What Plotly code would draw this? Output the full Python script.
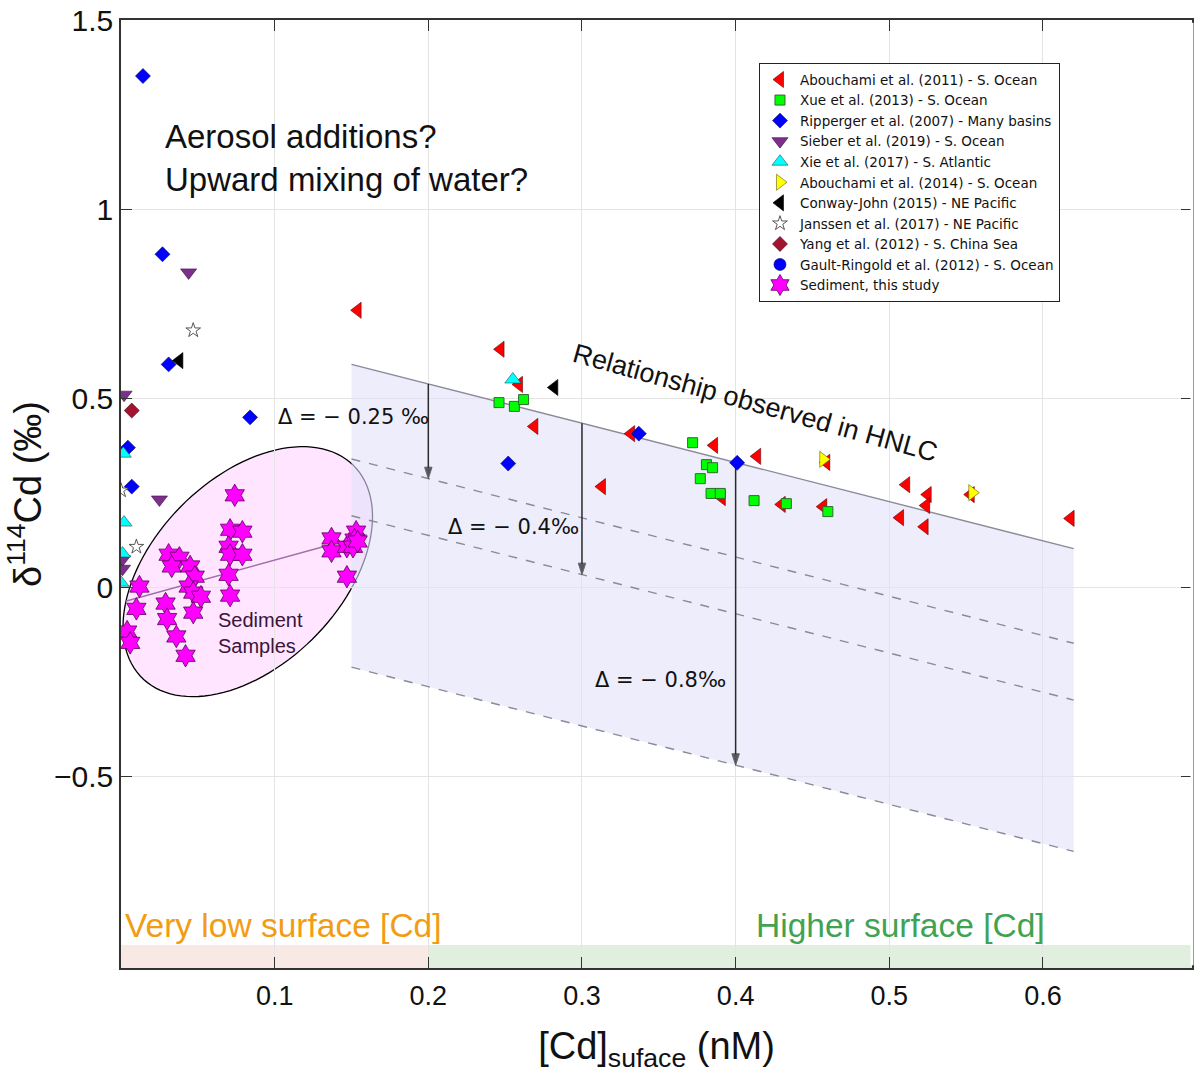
import numpy as np
import plotly.graph_objects as go

# ---------------- data ----------------
abou11_x = [0.154, 0.247, 0.259, 0.269, 0.332, 0.313, 0.386, 0.391, 0.414, 0.459, 0.511, 0.525, 0.524,
            0.507, 0.523, 0.618, 0.430, 0.457, 0.553]
abou11_y = [0.733, 0.630, 0.537, 0.426, 0.407, 0.267, 0.376, 0.238, 0.347, 0.331, 0.272, 0.246, 0.217,
            0.185, 0.161, 0.183, 0.220, 0.214, 0.246]

xue_x = [0.246, 0.256, 0.262, 0.372, 0.381, 0.385, 0.377, 0.384, 0.390, 0.412, 0.433, 0.460]
xue_y = [0.489, 0.479, 0.497, 0.383, 0.325, 0.317, 0.288, 0.249, 0.249, 0.230, 0.222, 0.201]

ripp_x = [0.0143, 0.027, 0.031, 0.084, 0.0045, 0.007, 0.252, 0.337, 0.401]
ripp_y = [1.352, 0.881, 0.590, 0.450, 0.370, 0.267, 0.328, 0.407, 0.330]

sieb_x = [0.044, 0.002, 0.025, 0.001, 0.001]
sieb_y = [0.833, 0.510, 0.233, 0.075, 0.050]

xie_x = [0.0015, 0.002, 0.001, 0.000, 0.255]
xie_y = [0.354, 0.172, 0.090, 0.013, 0.550]

abou14_x = [0.457, 0.554]
abou14_y = [0.339, 0.251]

conway_x = [0.038, 0.282]
conway_y = [0.600, 0.529]

janssen_x = [0.047, 0.000, 0.010]
janssen_y = [0.680, 0.257, 0.108]

yang_x = [0.007]
yang_y = [0.468]

gault_x = [None]
gault_y = [None]

sed_x = [0.012, 0.010, 0.004, 0.006, 0.031, 0.038, 0.033, 0.045, 0.048, 0.044, 0.047, 0.052, 0.029,
         0.030, 0.047, 0.036, 0.042, 0.074, 0.071, 0.079, 0.070, 0.071, 0.079, 0.070, 0.071,
         0.137, 0.137, 0.147, 0.153, 0.152, 0.151, 0.147, 0.154]
sed_y = [0.003, -0.056, -0.116, -0.146, 0.087, 0.079, 0.056, 0.056, 0.029, 0.003, -0.013, -0.024, -0.042,
         -0.083, -0.066, -0.129, -0.180, 0.244, 0.153, 0.148, 0.108, 0.087, 0.087, 0.034, -0.021,
         0.130, 0.096, 0.108, 0.148, 0.127, 0.108, 0.029, 0.122]

# sediment trend line
sedfit_x = [0.003, 0.160]
sedfit_y = [-0.036, 0.140]

# HNLC relationship
hnlc_x = [0.15, 0.62]
hnlc_y = [0.59, 0.103]
offsets = [0.0, -0.25, -0.4, -0.8]
arrow_x = [0.2, 0.3, 0.4]
arrow_off = [-0.25, -0.4, -0.8]

x_ticks = [0.1, 0.2, 0.3, 0.4, 0.5, 0.6]
y_ticks = [-0.5, 0, 0.5, 1, 1.5]
y_ticklabels = ["\u22120.5", "0", "0.5", "1", "1.5"]

XR = [0.0, 0.697]
YR = [-1.005, 1.5]

FONT = "Liberation Sans, Arial, sans-serif"

fig = go.Figure()

# shaded HNLC region
poly_x = [hnlc_x[0], hnlc_x[1], hnlc_x[1], hnlc_x[0], hnlc_x[0]]
poly_y = [hnlc_y[0], hnlc_y[1], hnlc_y[1] + offsets[-1], hnlc_y[0] + offsets[-1], hnlc_y[0]]
fig.add_trace(go.Scatter(x=poly_x, y=poly_y, mode="lines", fill="toself",
                         fillcolor="rgba(225,225,250,0.6)", line=dict(width=0),
                         showlegend=False, hoverinfo="skip"))
for i, off in enumerate(offsets):
    fig.add_trace(go.Scatter(x=hnlc_x, y=[v + off for v in hnlc_y], mode="lines",
                             line=dict(color="#8a8a98", width=1.4, dash="solid" if i == 0 else "dash"),
                             showlegend=False, hoverinfo="skip"))

# arrows from the HNLC line down to each offset line
slope = (hnlc_y[1] - hnlc_y[0]) / (hnlc_x[1] - hnlc_x[0])
for xa, off in zip(arrow_x, arrow_off):
    ytop = hnlc_y[0] + slope * (xa - hnlc_x[0])
    fig.add_trace(go.Scatter(x=[xa, xa], y=[ytop, ytop + off], mode="lines+markers",
                             line=dict(color="#2a2a2a", width=1.5),
                             marker=dict(symbol="arrow", angleref="previous", size=[0, 12],
                                         color="#1a1a1a", standoff=0),
                             showlegend=False, hoverinfo="skip"))

# ellipse around sediment samples (geometry in pixels -> data units)
px_per_x = 1073 / (XR[1] - XR[0])
px_per_y = 948 / (YR[1] - YR[0])
cx, cy = 0.0825, 0.0423
a_px, b_px, th = 150, 93.5, np.deg2rad(45)
t = np.linspace(0, 2 * np.pi, 120)
ex = cx + (a_px * np.cos(th) * np.cos(t) - b_px * np.sin(th) * np.sin(t)) / px_per_x
ey = cy + (a_px * np.sin(th) * np.cos(t) + b_px * np.cos(th) * np.sin(t)) / px_per_y
path = "M " + " L ".join(f"{x:.5f},{y:.5f}" for x, y in zip(ex, ey)) + " Z"
fig.add_shape(type="path", path=path, xref="x", yref="y",
              fillcolor="rgba(255,0,255,0.10)", line=dict(color="black", width=1.3), layer="below")

# bottom bands
fig.add_shape(type="rect", x0=0, x1=0.2, y0=YR[0], y1=-0.944, xref="x", yref="y",
              fillcolor="rgba(240,200,190,0.40)", line=dict(width=0), layer="below")
fig.add_shape(type="rect", x0=0.2, x1=XR[1], y0=YR[0], y1=-0.944, xref="x", yref="y",
              fillcolor="rgba(170,210,160,0.35)", line=dict(width=0), layer="below")
# hide mirrored right axis line (reference axis continues beyond the image edge)
fig.add_shape(type="line", x0=1, x1=1, y0=0.003, y1=0.997, xref="paper", yref="paper",
              line=dict(color="white", width=3), layer="above")

fig.add_trace(go.Scatter(x=sedfit_x, y=sedfit_y, mode="lines",
                         line=dict(color="#a070a8", width=1.5), showlegend=False, hoverinfo="skip"))

def mk(name, xs, ys, symbol, color, size, lcolor, lw=0.6):
    fig.add_trace(go.Scatter(x=xs, y=ys, mode="markers", name=name,
                             marker=dict(symbol=symbol, color=color, size=size,
                                         line=dict(color=lcolor, width=lw))))

mk("Abouchami et al. (2011) - S. Ocean", abou11_x, abou11_y, "triangle-left", "#ff0000", 14, "#5a0000")
mk("Xue et al. (2013) - S. Ocean", xue_x, xue_y, "square", "#00ff00", 10, "#2f6a2f", 1)
mk("Ripperger et al. (2007) - Many basins", ripp_x, ripp_y, "diamond", "#0000ff", 11.5, "#000060")
mk("Sieber et al. (2019) - S. Ocean", sieb_x, sieb_y, "triangle-down", "#7e2f8e", 14, "#3a1040")
mk("Xie et al. (2017) - S. Atlantic", xie_x, xie_y, "triangle-up", "#00ffff", 14, "#205050")
mk("Abouchami et al. (2014) - S. Ocean", abou14_x, abou14_y, "triangle-right", "#ffff00", 14, "#606000")
mk("Conway-John (2015) - NE Pacific", conway_x, conway_y, "triangle-left", "#000000", 14, "#000000")
mk("Janssen et al. (2017) - NE Pacific", janssen_x, janssen_y, "star", "#ffffff", 11, "#444444", 0.9)
mk("Yang et al. (2012) - S. China Sea", yang_x, yang_y, "diamond", "#a2142f", 11.5, "#400010")
mk("Gault-Ringold et al. (2012) - S. Ocean", gault_x, gault_y, "circle", "#0000ff", 12, "#000060")
mk("Sediment, this study", sed_x, sed_y, "hexagram", "#ff00ff", 17, "#5a005a", 0.8)

DFONT = dict(family="DejaVu Sans, sans-serif", size=21, color="#111")
annotations = [
    dict(x=0.101, y=0.45, text="\u0394 = \u2212 0.25 \u2030", xanchor="left", yanchor="middle",
         showarrow=False, font=DFONT),
    dict(x=0.2117, y=0.161, text="\u0394 = \u2212 0.4\u2030", xanchor="left", yanchor="middle",
         showarrow=False, font=DFONT),
    dict(x=0.307, y=-0.243, text="\u0394 = \u2212 0.8\u2030", xanchor="left", yanchor="middle",
         showarrow=False, font=DFONT),
    dict(x=0.413, y=0.489, text="Relationship observed in HNLC", textangle=15.5, showarrow=False,
         font=dict(family=FONT, size=27, color="#111")),
    dict(x=0.0273, y=1.136, text="Aerosol additions?<br>Upward mixing of water?", xanchor="left",
         yanchor="middle", align="left", showarrow=False,
         font=dict(family=FONT, size=33, color="#111")),
    dict(x=0.0617, y=-0.119, text="Sediment<br>Samples", xanchor="left", yanchor="middle",
         align="left", showarrow=False, font=dict(family=FONT, size=20, color="#3a143a")),
    dict(x=0.0015, y=-0.892, text="Very low surface [Cd]", xanchor="left", yanchor="middle",
         showarrow=False, font=dict(family=FONT, size=33.5, color="#f29c13")),
    dict(x=0.507, y=-0.892, text="Higher surface [Cd]", xanchor="center", yanchor="middle",
         showarrow=False, font=dict(family=FONT, size=33.5, color="#3fa352")),
]

fig.update_layout(
    width=1194, height=1074,
    margin=dict(l=121, r=0, t=20, b=106),
    plot_bgcolor="white", paper_bgcolor="white",
    font=dict(family=FONT, color="#111"),
    annotations=annotations,
    legend=dict(x=0.5955, y=0.9546, xanchor="left", yanchor="top",
                bgcolor="white", bordercolor="#222", borderwidth=1.2,
                font=dict(family="DejaVu Sans, sans-serif", size=13.5, color="#111"), tracegroupgap=0,
                itemsizing="trace"),
    xaxis=dict(range=XR, tickvals=x_ticks, ticktext=[str(v) for v in x_ticks],
               ticks="inside", ticklen=11, tickwidth=1.3, tickcolor="#333",
               showline=True, linecolor="#333", linewidth=1.5, mirror="ticks",
               showgrid=True, gridcolor="#e4e4e4", gridwidth=1, zeroline=False,
               tickfont=dict(family=FONT, size=27, color="#111"),
               ticklabelstandoff=3,
               title=dict(text="[Cd]<sub>suface</sub> (nM)", font=dict(size=38, color="#111"), standoff=22)),
    yaxis=dict(range=YR, tickvals=y_ticks, ticktext=y_ticklabels,
               ticks="inside", ticklen=11, tickwidth=1.3, tickcolor="#333",
               showline=True, linecolor="#333", linewidth=1.5, mirror="ticks",
               showgrid=True, gridcolor="#e4e4e4", gridwidth=1, zeroline=False,
               tickfont=dict(family=FONT, size=30, color="#111"),
               title=dict(text="\u03b4<sup>114</sup>Cd (\u2030)", font=dict(size=38, color="#111"), standoff=1)),
)

fig.write_html("out.html")
